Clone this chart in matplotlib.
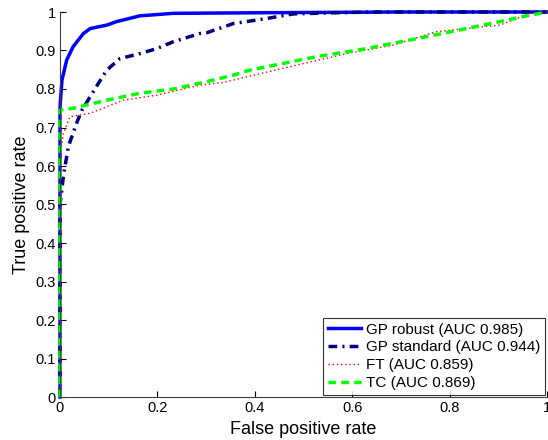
import matplotlib
matplotlib.use("Agg")
import matplotlib.pyplot as plt

plt.rcParams['font.family'] = ['Liberation Sans', 'DejaVu Sans']

# GP robust
gpr_x = [0, 0, 0.001, 0.004, 0.0137, 0.027, 0.048, 0.062, 0.096, 0.116, 0.164, 0.232, 0.4, 0.7, 1.0]
gpr_y = [0, 0.75, 0.771, 0.823, 0.875, 0.91, 0.944, 0.957, 0.966, 0.975, 0.99, 0.9965, 0.998, 1.0, 1.0]
# GP standard
gps_x = [0, 0, 0.003, 0.0068, 0.017, 0.034, 0.045, 0.062, 0.079, 0.096, 0.123, 0.164, 0.199, 0.233, 0.287, 0.301, 0.356, 0.424, 0.479, 0.56, 0.65, 1.0]
gps_y = [0, 0.50, 0.53, 0.572, 0.65, 0.711, 0.745, 0.78, 0.815, 0.849, 0.879, 0.892, 0.905, 0.923, 0.944, 0.946, 0.970, 0.983, 0.995, 0.998, 1.0, 1.0]
# FT
ft_x = [0, 0, 0.003, 0.007, 0.0205, 0.062, 0.13, 0.199, 0.253, 0.287, 0.335, 0.472, 0.589, 0.684, 0.773, 0.903, 0.965, 1.0]
ft_y = [0, 0.60, 0.65, 0.685, 0.728, 0.737, 0.771, 0.784, 0.80, 0.81, 0.817, 0.858, 0.892, 0.914, 0.949, 0.966, 0.996, 1.0]
# TC
tc_x = [0, 0, 0.027, 0.096, 0.164, 0.233, 0.301, 0.356, 0.39, 0.527, 0.63, 0.733, 0.835, 0.903, 0.958, 1.0]
tc_y = [0, 0.745, 0.75, 0.771, 0.789, 0.80, 0.819, 0.836, 0.849, 0.884, 0.905, 0.931, 0.957, 0.975, 0.99, 1.0]

labels = ['GP robust (AUC 0.985)', 'GP standard (AUC 0.944)', 'FT (AUC 0.859)', 'TC (AUC 0.869)']

fig = plt.figure(figsize=(5.48, 4.40), dpi=100)
ax = fig.add_axes([60/548, 43/440, 487/548, 385/440])

ax.plot(gpr_x, gpr_y, color='#0000FF', lw=2.5, linestyle='-', label=labels[0])
ax.plot(gps_x, gps_y, color='#00007F', lw=2.5, linestyle=(0, (2.5, 1.5, 0.6, 1.5)), label=labels[1])
ax.plot(ft_x, ft_y, color='#FF0000', lw=1.0, linestyle=(0, (1, 2)), label=labels[2])
ax.plot(tc_x, tc_y, color='#00FF00', lw=2.5, linestyle=(0, (2.2, 1.5)), label=labels[3])

ax.set_xlim(0, 1)
ax.set_ylim(0, 1)
ax.set_xticks([0, 0.2, 0.4, 0.6, 0.8, 1.0])
ax.set_xticklabels(['0', '0.2', '0.4', '0.6', '0.8', '1'])
ax.set_yticks([i / 10 for i in range(11)])
ax.set_yticklabels(['0', '0.1', '0.2', '0.3', '0.4', '0.5', '0.6', '0.7', '0.8', '0.9', '1'])
ax.tick_params(direction='in', labelsize=10.5, length=4, width=0.8, pad=3)
ax.spines['top'].set_visible(False)
ax.spines['right'].set_visible(False)
for s in ['left', 'bottom']:
    ax.spines[s].set_color('#404040')
    ax.spines[s].set_linewidth(0.8)
ax.set_xlabel('False positive rate', fontsize=13, labelpad=4)
ax.set_ylabel('True positive rate', fontsize=13, labelpad=4)

leg = ax.legend(loc='lower right', fontsize=11, frameon=True, fancybox=False,
                edgecolor='black', borderaxespad=0.15, handlelength=2.2,
                handletextpad=0.3, labelspacing=0.25, borderpad=0.3)
leg.get_frame().set_linewidth(0.8)
for line in ax.lines:
    line.set_clip_on(False)

fig.savefig('out.png', dpi=100)
